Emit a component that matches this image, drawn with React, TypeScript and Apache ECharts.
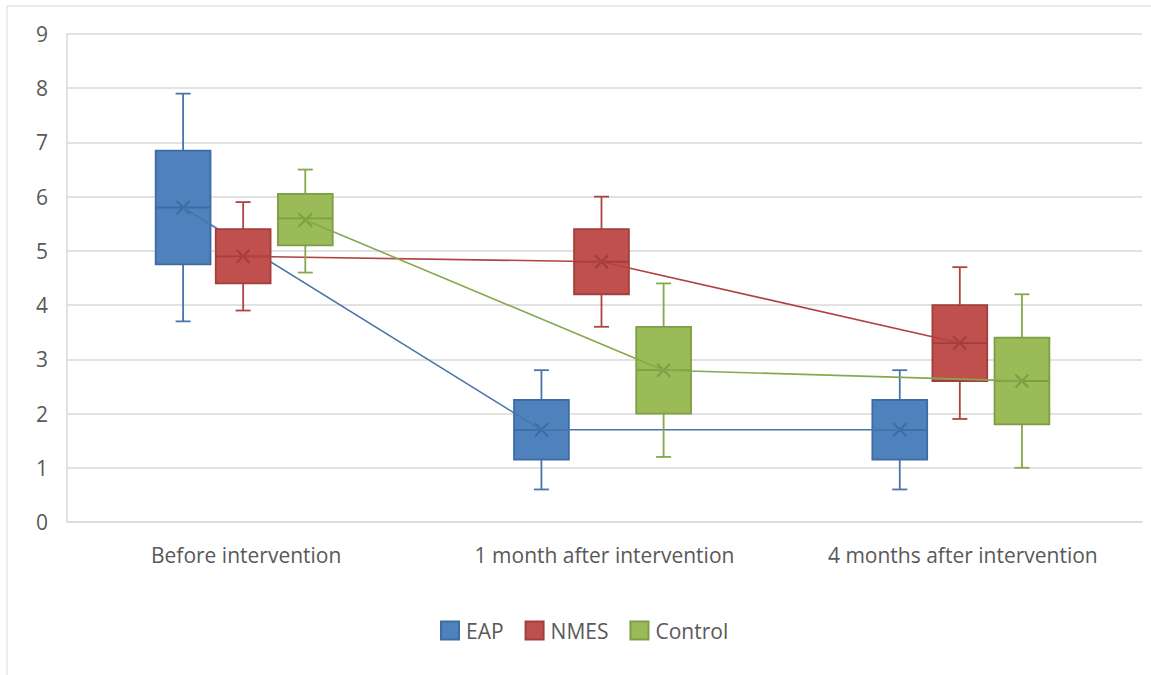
import React, { useEffect, useRef } from "react";
import * as echarts from "echarts";

const categories = ["Before intervention", "1 month after intervention", "4 months after intervention"];
const seriesNames = ["EAP", "NMES", "Control"];
const yTicks = [0, 1, 2, 3, 4, 5, 6, 7, 8, 9];

// [min, q1, median, q3, max, mean] per category
const eapStats = [
  [3.7, 4.75, 5.8, 6.85, 7.9, 5.8],
  [0.6, 1.15, 1.7, 2.25, 2.8, 1.7],
  [0.6, 1.15, 1.7, 2.25, 2.8, 1.7],
];
const nmesStats = [
  [3.9, 4.4, 4.9, 5.4, 5.9, 4.9],
  [3.6, 4.2, 4.8, 5.4, 6.0, 4.8],
  [1.9, 2.6, 3.3, 4.0, 4.7, 3.3],
];
const controlStats = [
  [4.6, 5.1, 5.6, 6.05, 6.5, 5.57],
  [1.2, 2.0, 2.8, 3.6, 4.4, 2.8],
  [1.0, 1.8, 2.6, 3.4, 4.2, 2.6],
];

const allStats = [eapStats, nmesStats, controlStats];
const fills = ["#4F81BD", "#C0504D", "#9BBB59"];
const borders = ["#3D6CA3", "#A23E3B", "#7E9E45"];
const meanLineColors = ["#4A74AA", "#B0433F", "#86A84C"];
const offsets = [-0.176, -0.0084, 0.165];
const boxW = 0.153;

export default function App() {
  const ref = useRef<HTMLDivElement>(null);
  useEffect(() => {
    if (!ref.current) return;
    const chart = echarts.init(ref.current, null, { renderer: "svg" });
    const font = "'Open Sans', sans-serif";

    const boxSeries = (si: number) => ({
      type: "custom",
      name: seriesNames[si],
      itemStyle: { color: fills[si], borderColor: borders[si], borderWidth: 1.5 },
      data: allStats[si].map((s, i) => [i, ...s]),
      z: 2 + si * 2,
      renderItem: (params: any, api: any) => {
        const i = api.value(0);
        const bw = api.size([1, 0])[0];
        const cx = api.coord([i, 0])[0] + offsets[si] * bw;
        const w = boxW * bw;
        const y = (v: number) => api.coord([i, v])[1];
        const mn = y(api.value(1));
        const q1 = y(api.value(2));
        const md = y(api.value(3));
        const q3 = y(api.value(4));
        const mx = y(api.value(5));
        const mean = y(api.value(6));
        const cap = 7.5;
        const m = 6.5;
        const stroke = { stroke: borders[si], lineWidth: 1.8 };
        const wStroke = { stroke: meanLineColors[si], lineWidth: 1.8 };
        return {
          type: "group",
          children: [
            { type: "line", shape: { x1: cx, y1: mx, x2: cx, y2: q3 }, style: wStroke },
            { type: "line", shape: { x1: cx - cap, y1: mx, x2: cx + cap, y2: mx }, style: wStroke },
            { type: "line", shape: { x1: cx, y1: q1, x2: cx, y2: mn }, style: wStroke },
            { type: "line", shape: { x1: cx - cap, y1: mn, x2: cx + cap, y2: mn }, style: wStroke },
            {
              type: "rect",
              shape: { x: cx - w / 2, y: q3, width: w, height: q1 - q3 },
              style: { fill: fills[si], stroke: borders[si], lineWidth: 1.8 },
            },
            { type: "line", shape: { x1: cx - w / 2, y1: md, x2: cx + w / 2, y2: md }, style: stroke },
            { type: "line", shape: { x1: cx - m, y1: mean - m, x2: cx + m, y2: mean + m }, style: { stroke: borders[si], lineWidth: 2 } },
            { type: "line", shape: { x1: cx - m, y1: mean + m, x2: cx + m, y2: mean - m }, style: { stroke: borders[si], lineWidth: 2 } },
          ],
        };
      },
    });

    const lineSeries = (si: number) => ({
      type: "custom",
      name: seriesNames[si] + " mean",
      data: allStats[si].map((s, i) => [i, s[5]]),
      z: 3 + si * 2,
      silent: true,
      renderItem: (params: any, api: any) => {
        const i = api.value(0);
        if (i === 0) return null;
        const bw = api.size([1, 0])[0];
        const prev = allStats[si][i - 1][5];
        const p0 = api.coord([i - 1, prev]);
        const p1 = api.coord([i, api.value(1)]);
        return {
          type: "line",
          shape: { x1: p0[0] + offsets[si] * bw, y1: p0[1], x2: p1[0] + offsets[si] * bw, y2: p1[1] },
          style: { stroke: meanLineColors[si], lineWidth: 1.6 },
        };
      },
    });

    chart.setOption({
      animation: false,
      backgroundColor: "#ffffff",
      textStyle: { fontFamily: font },
      graphic: [
        {
          type: "rect",
          shape: { x: 7, y: 6, width: 1200, height: 700 },
          style: { fill: "none", stroke: "#D9D9D9", lineWidth: 1 },
          silent: true,
          z: -10,
        },
      ],
      legend: {
        data: seriesNames,
        bottom: 34,
        left: 440,
        padding: 0,
        icon: "rect",
        itemWidth: 18,
        itemHeight: 18,
        itemGap: 21,
        textStyle: { fontSize: 21, color: "#595959", fontFamily: font, padding: [0, 0, 0, 2] },
      },
      grid: { left: 67, top: 34, right: 9, bottom: 153 },
      xAxis: {
        type: "category",
        data: categories,
        axisLine: { lineStyle: { color: "#D9D9D9", width: 1.5 } },
        axisTick: { show: false },
        axisLabel: { fontSize: 21, color: "#595959", margin: 22, fontFamily: font },
      },
      yAxis: {
        type: "value",
        min: yTicks[0],
        max: yTicks[yTicks.length - 1],
        interval: 1,
        axisLine: { show: true, lineStyle: { color: "#D9D9D9", width: 1.5 } },
        axisTick: { show: false },
        splitLine: { lineStyle: { color: "#D9D9D9", width: 1.5 } },
        axisLabel: { fontSize: 21, color: "#595959", margin: 19, fontFamily: font },
      },
      series: [boxSeries(0), lineSeries(0), boxSeries(1), lineSeries(1), boxSeries(2), lineSeries(2)],
    });
    return () => chart.dispose();
  }, []);
  return <div ref={ref} style={{ position: "fixed", left: 0, top: 0, width: 1151, height: 675 }} />;
}
